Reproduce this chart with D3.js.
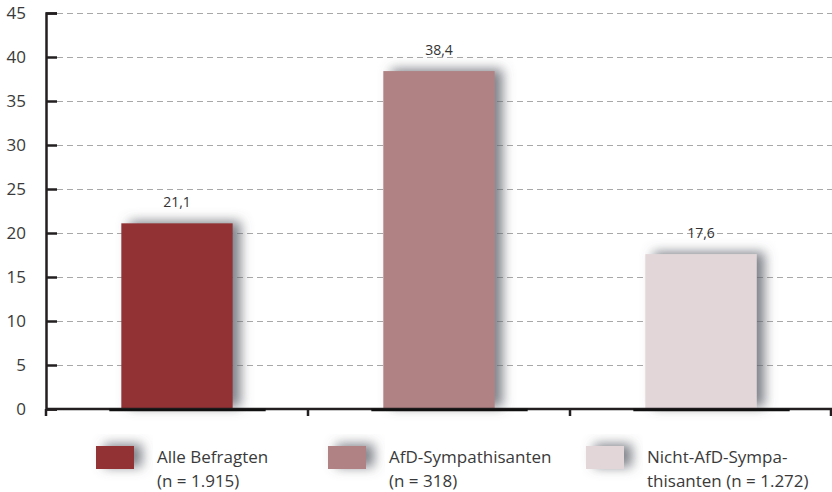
<!DOCTYPE html>
<html>
<head>
<meta charset="utf-8">
<script src="https://cdn.jsdelivr.net/npm/d3@7"></script>
<style>
  body { margin: 0; background: #fff; }
  text { font-family: "Open Sans", "Noto Sans", sans-serif; }
</style>
</head>
<body>
<div id="chart"></div>
<script>
// data
var categories = ["Alle Befragten", "AfD-Sympathisanten", "Nicht-AfD-Sympathisanten"];
var values = [21.1, 38.4, 17.6];
var valueLabels = ["21,1", "38,4", "17,6"];
var colors = ["#933236", "#b08283", "#e2d6d8"];
var legendLines = [
  ["Alle Befragten", "(n = 1.915)"],
  ["AfD-Sympathisanten", "(n = 318)"],
  ["Nicht-AfD-Sympa-", "thisanten (n = 1.272)"]
];
var yTicks = [0, 5, 10, 15, 20, 25, 30, 35, 40, 45];

var W = 832, H = 492;
var margin = { top: 13, right: 0, bottom: 83, left: 46 };

var svg = d3.select("#chart").append("svg")
  .attr("width", W)
  .attr("height", H);

// drop shadow for bars + legend swatches
var defs = svg.append("defs");
var f = defs.append("filter").attr("id", "shadow")
  .attr("x", "-50%").attr("y", "-50%").attr("width", "200%").attr("height", "200%");
f.append("feDropShadow")
  .attr("dx", 8).attr("dy", -2)
  .attr("stdDeviation", 6)
  .attr("flood-color", "#5f626c")
  .attr("flood-opacity", 0.8);

var x = d3.scaleBand()
  .domain(categories)
  .range([margin.left, W - margin.right])
  .padding(0);

var y = d3.scaleLinear()
  .domain([0, 45])
  .range([H - margin.bottom, margin.top]);

var barW = x.bandwidth() * 0.425;

// grid lines
svg.append("g")
  .selectAll("line")
  .data(yTicks.filter(function(d) { return d > 0; }))
  .enter()
  .append("line")
  .attr("x1", margin.left + 11)
  .attr("x2", W)
  .attr("y1", function(d) { return y(d) + 0.5; })
  .attr("y2", function(d) { return y(d) + 0.5; })
  .attr("stroke", "#a8a8a8")
  .attr("stroke-width", 1)
  .attr("stroke-dasharray", "6,4");

// bars
svg.append("g")
  .selectAll("rect")
  .data(values)
  .enter()
  .append("rect")
  .attr("x", function(d, i) { return x(categories[i]) + (x.bandwidth() - barW) / 2; })
  .attr("y", function(d) { return y(d); })
  .attr("width", barW)
  .attr("height", function(d) { return y(0) - y(d); })
  .attr("fill", function(d, i) { return colors[i]; })
  .attr("filter", "url(#shadow)");

// value labels
svg.append("g")
  .selectAll("text")
  .data(values)
  .enter()
  .append("text")
  .attr("x", function(d, i) { return x(categories[i]) + x.bandwidth() / 2; })
  .attr("y", function(d) { return y(d) - 16; })
  .attr("text-anchor", "middle")
  .attr("font-size", "14px")
  .attr("fill", "#333")
  .text(function(d, i) { return valueLabels[i]; });

// y axis
var yAxis = d3.axisLeft(y)
  .tickValues(yTicks)
  .tickSize(-11)
  .tickPadding(20);
var gy = svg.append("g")
  .attr("transform", "translate(" + margin.left + ",0)")
  .call(yAxis);
gy.select(".domain").attr("stroke", "#231f20").attr("stroke-width", 2.5);
gy.selectAll(".tick line").attr("stroke", "#231f20").attr("stroke-width", 2.5);
gy.selectAll(".tick text")
  .attr("font-size", "17px")
  .attr("fill", "#3a3a3a")
  .style("font-family", "'Open Sans', sans-serif");

// x axis baseline + ticks between categories
var gx = svg.append("g");
gx.append("line")
  .attr("x1", margin.left).attr("x2", W)
  .attr("y1", y(0)).attr("y2", y(0))
  .attr("stroke", "#231f20").attr("stroke-width", 2.5);
var bounds = categories.map(function(c) { return x(c); }).concat([W - 1]);
gx.selectAll(".xt")
  .data(bounds)
  .enter()
  .append("line")
  .attr("x1", function(d) { return d; })
  .attr("x2", function(d) { return d; })
  .attr("y1", y(0))
  .attr("y2", y(0) + 7)
  .attr("stroke", "#231f20").attr("stroke-width", 2.5);

// darker foot under each bar
gx.selectAll(".foot")
  .data(values)
  .enter()
  .append("line")
  .attr("x1", function(d, i) { return x(categories[i]) + (x.bandwidth() - barW) / 2 - 12; })
  .attr("x2", function(d, i) { return x(categories[i]) + (x.bandwidth() + barW) / 2 + 33; })
  .attr("y1", y(0) + 1)
  .attr("y2", y(0) + 1)
  .attr("stroke", "#111").attr("stroke-width", 2.5);

// legend
var legendX = [96, 328, 586];
var leg = svg.append("g")
  .selectAll("g")
  .data(categories)
  .enter()
  .append("g")
  .attr("transform", function(d, i) { return "translate(" + legendX[i] + ",446)"; });

leg.append("rect")
  .attr("width", 38)
  .attr("height", 23)
  .attr("fill", function(d, i) { return colors[i]; })
  .attr("filter", "url(#shadow)");

leg.append("text")
  .attr("x", 61)
  .attr("y", 17)
  .attr("font-size", "17px")
  .attr("fill", "#3a3a3a")
  .selectAll("tspan")
  .data(function(d, i) { return legendLines[i]; })
  .enter()
  .append("tspan")
  .attr("x", 61)
  .attr("dy", function(d, j) { return j === 0 ? 0 : 24; })
  .text(function(d) { return d; });
</script>
</body>
</html>
